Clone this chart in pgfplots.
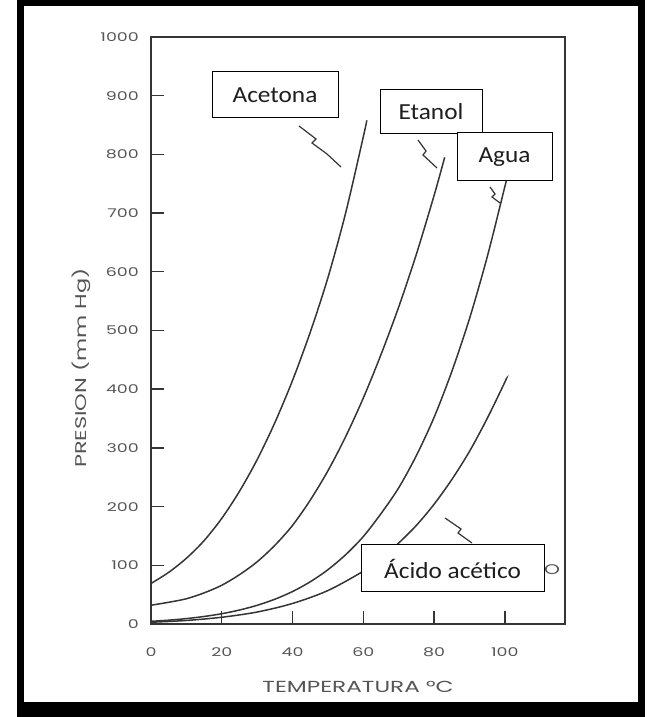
\documentclass[border=0pt]{standalone}
\usepackage{pgfplots}
\pgfplotsset{compat=1.18}
\usepackage{fontspec}
\setmainfont{Carlito}
\newfontfamily\scanfont[FakeStretch=1.45]{Poppins}
\newfontfamily\labfont[FakeStretch=1.1]{Carlito}
\definecolor{ink}{HTML}{353535}
\definecolor{scan}{HTML}{555555}
\definecolor{labtext}{HTML}{1E1E1E}

\begin{document}
\begin{tikzpicture}
\fill[white] (0pt,0pt) rectangle (648pt,717pt);
\fill[black] (17pt,0pt) rectangle (645pt,717pt);
\fill[white] (24pt,15pt) rectangle (638pt,711pt);
\begin{axis}[
  at={(151pt,93pt)}, anchor=south west,
  scale only axis, width=414pt, height=587pt,
  xmin=0, xmax=117, ymin=0, ymax=1000,
  axis line style={line width=1.6pt, draw=ink},
  xtick={0,20,40,60,80,100},
  ytick={0,100,...,1000},
  xtick pos=bottom, ytick pos=left,
  tick align=inside, major tick length=13pt,
  tick style={line width=1.4pt, draw=ink},
  /pgf/number format/assume math mode=true,
  /pgf/number format/1000 sep={},
  ticklabel style={font=\scanfont\fontsize{12}{12}\selectfont, text=scan},
  yticklabel style={anchor=east, inner sep=0pt, xshift=-12pt},
  xticklabel style={anchor=north, inner sep=0pt, yshift=-23pt},
  xlabel={TEMPERATURA °C},
  xlabel style={at={(axis description cs:0.5,-0.107)}, anchor=center, font=\scanfont\fontsize{16}{16}\selectfont, text=scan},
  ylabel={PRESION (mm Hg)},
  ylabel style={at={(axis description cs:-0.169,0.436)}, anchor=center, font=\scanfont\fontsize{15.5}{15.5}\selectfont, text=scan},
  clip=false,
]
% Acetona
\addplot[ink, line width=1.5pt, smooth] coordinates {
(0,69) (5,88) (10,112) (15,142) (20,180) (25,226) (30,280) (35,343) (40,415) (45,497) (50,590) (55,700) (60,830) (61,858)};
% Etanol
\addplot[ink, line width=1.5pt, smooth] coordinates {
(0,32) (5,37) (10,43) (15,53) (20,66) (25,84) (30,106) (35,134) (40,168) (45,211) (50,261) (55,319) (60,385) (65,459) (70,540) (75,630) (80,730) (83,795)};
% Agua
\addplot[ink, line width=1.5pt, smooth] coordinates {
(0,4.6) (5,6.5) (10,9.2) (15,12.8) (20,17.5) (25,23.8) (30,31.8) (35,42.2) (40,55.3) (45,71.9) (50,92.5) (55,118) (60,149) (65,188) (70,232) (75,287) (80,352) (85,430) (90,520) (95,625) (100,745) (100.5,757)};
% Acido acetico
\addplot[ink, line width=1.5pt, smooth] coordinates {
(0,3) (10,6) (20,11.5) (30,20.4) (40,35) (50,57) (60,90) (65,112) (70,138) (75,168) (80,204) (85,246) (90,294) (95,350) (100,412) (100.4,418)};
\end{axis}
% pointer squiggles
\draw[ink, line width=1.2pt] (299pt,591pt) -- (316pt,578pt) -- (312pt,574pt) -- (327pt,563pt) -- (341pt,550pt);
\draw[ink, line width=1.2pt] (418pt,577pt) -- (426pt,566pt) -- (423pt,562pt) -- (437pt,549pt);
\draw[ink, line width=1.2pt] (490pt,530pt) -- (495pt,523pt) -- (492pt,520pt) -- (500pt,514pt);
\draw[ink, line width=1.2pt] (445pt,199pt) -- (461pt,188pt) -- (458pt,184pt) -- (472pt,174pt);
\node[font=\scanfont\fontsize{14}{14}\selectfont, text=scan] at (552pt,147pt) {O};
% label boxes
\tikzset{lab/.style={draw=black, line width=1pt, fill=white, inner sep=0pt, text=labtext, font=\labfont\fontsize{23}{23}\selectfont}}
\node[lab, minimum width=126pt, minimum height=46pt] at (275pt,622pt) {Acetona};
\node[lab, minimum width=102pt, minimum height=44pt] at (431pt,605pt) {Etanol};
\node[lab, minimum width=95pt, minimum height=48pt] at (504.5pt,560pt) {Agua};
\node[lab, minimum width=183pt, minimum height=47pt] at (452.5pt,148.5pt) {Ácido acético};
\end{tikzpicture}
\end{document}
